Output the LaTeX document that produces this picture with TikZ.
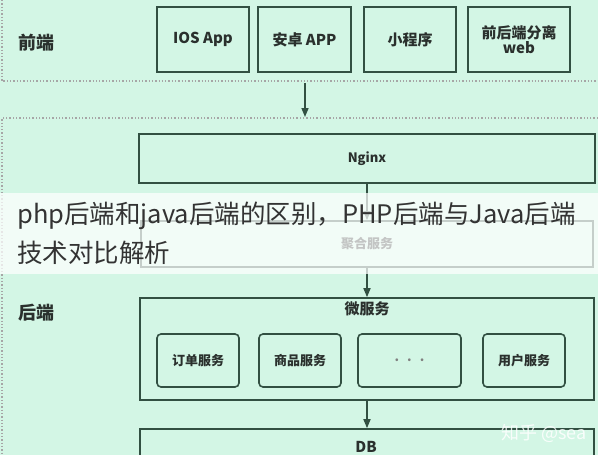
\documentclass[tikz,border=0pt]{standalone}
\usepackage{fontspec}
\setmainfont{Noto Sans CJK SC}
\usetikzlibrary{arrows.meta, positioning}
\definecolor{mint}{RGB}{211,246,229}
\definecolor{boxline}{RGB}{50,80,66}
\definecolor{labeltext}{RGB}{42,48,45}

\begin{document}
\begin{tikzpicture}[
    x=1pt, y=-1pt,
    box/.style={rectangle, draw=boxline, line width=1.6pt, text=labeltext, inner sep=0pt, align=center, font=\fontsize{15}{18}\selectfont\bfseries},
    client/.style={box, minimum width=92pt, minimum height=65pt},
    service/.style={box, rounded corners=4pt, minimum width=82pt, minimum height=53pt, font=\fontsize{13}{15}\selectfont\bfseries},
    layer/.style={text=labeltext, font=\fontsize{18}{20}\selectfont\bfseries},
    arrow/.style={-{Triangle[length=9pt,width=7pt]}, line width=1.6pt, draw=boxline},
    divider/.style={draw=gray!70, line width=1.3pt, dotted}
]
\useasboundingbox (0,0) rectangle (598,455);
\clip (0,0) rectangle (598,455);
\fill[mint] (0,0) rectangle (598,455);

% Bands
\draw[divider] (2,0) -- (2,81) -- (598,81);
\draw[divider] (598,118) -- (2,118) -- (2,455);
\coordinate (frontout) at (305,83);
\coordinate (backin) at (305,117);

% Front end
\node[layer] (front) at (37,43) {前端};
\node[client] (ios) at (203,39.5) {IOS App};
\node[client, minimum width=93pt] (android) at (304.5,39.5) {安卓 APP};
\node[client] (mini) at (410,39.5) {小程序};
\node[client, minimum width=102pt] (web) at (519,39.5) {前后端分离\\[-3pt]web};

% Back end
\node[layer] (back) at (37,313) {后端};
\node[box, minimum width=456pt, minimum height=49pt, font=\fontsize{13}{15}\selectfont\bfseries] (nginx) at (367,158.5) {Nginx};
\node[box, minimum width=452pt, minimum height=46pt, font=\fontsize{13}{15}\selectfont\bfseries] (agg) at (367,244) {聚合服务};
\node[box, minimum width=454pt, minimum height=102pt] (micro) at (367,349) {};
\node[text=labeltext, font=\fontsize{15}{18}\selectfont\bfseries] (microtext) at (367,309) {微服务};
\node[service] (order) at (198,360.5) {订单服务};
\node[service] (goods) at (300,360.5) {商品服务};
\node[service, minimum width=103pt, text=gray] (more) at (409.5,360.5) {.\hspace{8pt}.\hspace{8pt}.};
\node[service] (user) at (524,360.5) {用户服务};
\node[box, minimum width=454pt, minimum height=60pt] (db) at (367,459) {};
\node[text=labeltext, font=\fontsize{15}{18}\selectfont\bfseries] (dbtext) at (366,447) {DB};

% Arrows
\draw[arrow] (frontout) -- (backin);
\draw[arrow] (nginx) -- (agg);
\draw[arrow] (agg) -- (micro);
\draw[arrow] (micro) -- (db);

% Title overlay
\fill[white, opacity=0.72] (0,193) rectangle (598,274);
\node[anchor=north west, align=left, inner sep=0pt, text=black!80, font=\fontsize{25.5}{39}\selectfont] (title) at (17,202) {php后端和java后端的区别，PHP后端与Java后端\\技术对比解析};

% Watermark
\node[text=white, opacity=0.85, font=\fontsize{18}{20}\selectfont] (mark) at (544,433) {知乎 @sea};
\end{tikzpicture}
\end{document}
